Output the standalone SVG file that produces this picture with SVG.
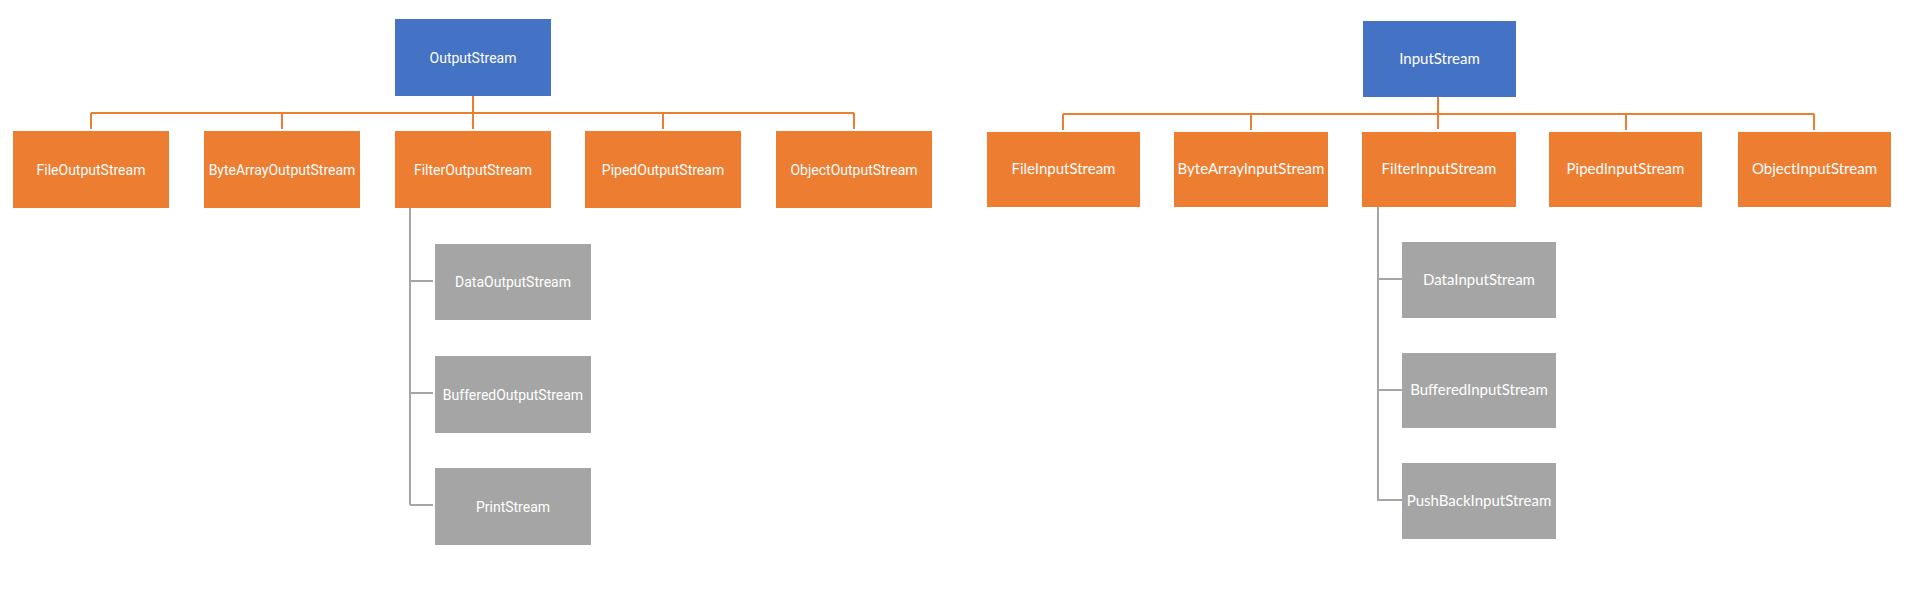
<svg xmlns="http://www.w3.org/2000/svg" width="1922" height="598" viewBox="0 0 1922 598">
<style>
.blue{fill:#4472C4}
.orange{fill:#ED7D31}
.gray{fill:#A5A5A5}
.lt{font-family:Roboto,"Liberation Sans",sans-serif;font-size:14px;fill:#ffffff;text-anchor:middle;dominant-baseline:central}
.rt{font-family:Lato,"Open Sans","Liberation Sans",sans-serif;font-size:15px;fill:#ffffff;text-anchor:middle;dominant-baseline:central}
.oc{stroke:#ED7D31;stroke-width:2;fill:none}
.gc{stroke:#A5A5A5;stroke-width:2;fill:none}
</style>
<rect width="1922" height="598" fill="#ffffff"/>
<g id="connectors">
<path class="oc" d="M473 96V129M91 113H854M91 113V129M282 113V129M663 113V129M854 113V129"/>
<path class="gc" d="M410 208V505M410 281H433M410 393H433M410 505H433"/>
<path class="oc" d="M1438 97V129M1063 114H1814M1063 114V130M1251 114V130M1626 114V130M1814 114V130"/>
<path class="gc" d="M1378 207V501M1378 279H1402M1378 390H1402M1378 500H1402"/>
</g>
<g id="OutputStream"><rect class="blue" x="395" y="19" width="156" height="77"/><text class="lt" x="473" y="57.5">OutputStream</text></g>
<g id="FileOutputStream"><rect class="orange" x="13" y="131" width="156" height="77"/><text class="lt" x="91" y="169.5">FileOutputStream</text></g>
<g id="ByteArrayOutputStream"><rect class="orange" x="204" y="131" width="156" height="77"/><text class="lt" x="282" y="169.5">ByteArrayOutputStream</text></g>
<g id="FilterOutputStream"><rect class="orange" x="395" y="131" width="156" height="77"/><text class="lt" x="473" y="169.5">FilterOutputStream</text></g>
<g id="PipedOutputStream"><rect class="orange" x="585" y="131" width="156" height="77"/><text class="lt" x="663" y="169.5">PipedOutputStream</text></g>
<g id="ObjectOutputStream"><rect class="orange" x="776" y="131" width="156" height="77"/><text class="lt" x="854" y="169.5">ObjectOutputStream</text></g>
<g id="DataOutputStream"><rect class="gray" x="435" y="244" width="156" height="76"/><text class="lt" x="513" y="282">DataOutputStream</text></g>
<g id="BufferedOutputStream"><rect class="gray" x="435" y="356" width="156" height="77"/><text class="lt" x="513" y="394.5">BufferedOutputStream</text></g>
<g id="PrintStream"><rect class="gray" x="435" y="468" width="156" height="77"/><text class="lt" x="513" y="506.5">PrintStream</text></g>
<g id="InputStream"><rect class="blue" x="1363" y="21" width="153" height="76"/><text class="rt" x="1439.5" y="57.5">InputStream</text></g>
<g id="FileInputStream"><rect class="orange" x="987" y="132" width="153" height="75"/><text class="rt" x="1063.5" y="168">FileInputStream</text></g>
<g id="ByteArrayInputStream"><rect class="orange" x="1174" y="132" width="154" height="75"/><text class="rt" x="1251" y="168">ByteArrayInputStream</text></g>
<g id="FilterInputStream"><rect class="orange" x="1362" y="132" width="154" height="75"/><text class="rt" x="1439" y="168">FilterInputStream</text></g>
<g id="PipedInputStream"><rect class="orange" x="1549" y="132" width="153" height="75"/><text class="rt" x="1625.5" y="168">PipedInputStream</text></g>
<g id="ObjectInputStream"><rect class="orange" x="1738" y="132" width="153" height="75"/><text class="rt" x="1814.5" y="168">ObjectInputStream</text></g>
<g id="DataInputStream"><rect class="gray" x="1402" y="242" width="154" height="76"/><text class="rt" x="1479" y="279">DataInputStream</text></g>
<g id="BufferedInputStream"><rect class="gray" x="1402" y="353" width="154" height="75"/><text class="rt" x="1479" y="389">BufferedInputStream</text></g>
<g id="PushBackInputStream"><rect class="gray" x="1402" y="463" width="154" height="76"/><text class="rt" x="1479" y="499.5">PushBackInputStream</text></g>
</svg>
